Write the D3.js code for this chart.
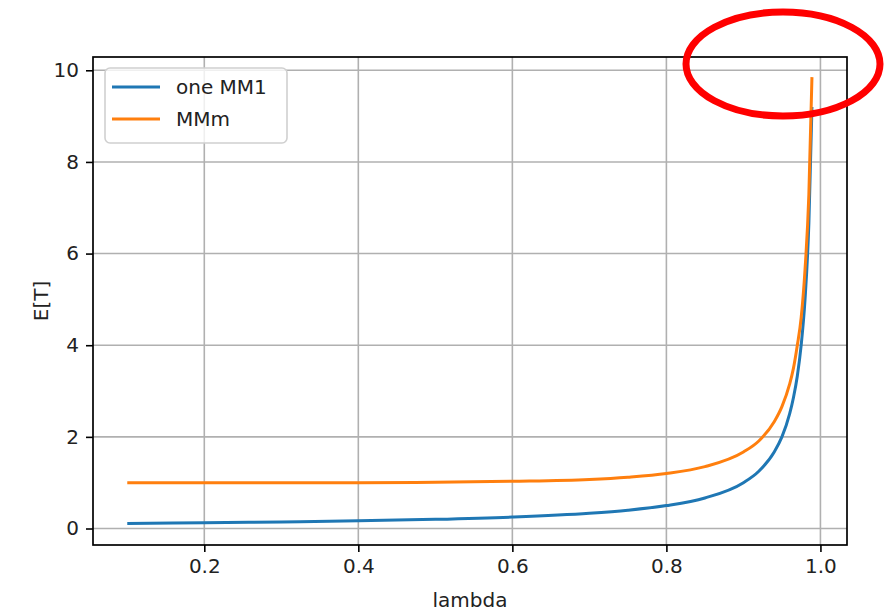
<!DOCTYPE html>
<html>
<head>
<meta charset="utf-8">
<script src="https://cdn.jsdelivr.net/npm/d3@7"></script>
<style>
  body { margin: 0; background: white; }
  text { font-family: "DejaVu Sans", sans-serif; }
</style>
</head>
<body>
<div id="vis"></div>
<script>
// values
let lambdas = [0.1, 0.2, 0.3, 0.4, 0.5, 0.6, 0.7, 0.75, 0.8, 0.85, 0.9, 0.92, 0.94, 0.95, 0.96, 0.965, 0.97, 0.975, 0.98, 0.985, 0.989]
let oneMM1 = [0.11, 0.125, 0.143, 0.167, 0.2, 0.25, 0.333, 0.4, 0.5, 0.667, 1.0, 1.25, 1.67, 2.0, 2.5, 2.86, 3.33, 4.0, 5.0, 6.67, 9.2]
let mmm = [1.0, 1.0, 1.0, 1.0, 1.01, 1.03, 1.07, 1.12, 1.2, 1.35, 1.67, 1.91, 2.33, 2.66, 3.15, 3.5, 4.0, 4.6, 5.65, 7.3, 9.85]
let xTicks = [0.2, 0.4, 0.6, 0.8, 1.0]
let yTicks = [0, 2, 4, 6, 8, 10]
let seriesNames = ['one MM1', 'MMm']
let seriesColors = ['#1f77b4', '#ff7f0e']

let W = 886, H = 611
let margin = { top: 57, left: 93, right: 39, bottom: 66 },
  width = W - margin.left - margin.right,
  height = H - margin.top - margin.bottom

let svg = d3.select('#vis')
  .append('svg')
  .attr('width', W)
  .attr('height', H)
  .style('background-color', 'white')

let x = d3.scaleLinear().domain([0.0555, 1.0345]).range([margin.left, margin.left + width])
let y = d3.scaleLinear().domain([-0.36, 10.29]).range([margin.top + height, margin.top])

// grid
svg.append('g').selectAll('line').data(xTicks).join('line')
  .attr('x1', d => x(d)).attr('x2', d => x(d))
  .attr('y1', margin.top).attr('y2', margin.top + height)
  .attr('stroke', '#b0b0b0').attr('stroke-width', 1.6)
svg.append('g').selectAll('line').data(yTicks).join('line')
  .attr('y1', d => y(d)).attr('y2', d => y(d))
  .attr('x1', margin.left).attr('x2', margin.left + width)
  .attr('stroke', '#b0b0b0').attr('stroke-width', 1.6)

// lines
let series = [oneMM1, mmm]
let line = d3.line()
  .x((d, i) => x(lambdas[i]))
  .y(d => y(d))
  .curve(d3.curveMonotoneX)
series.forEach((s, k) => {
  svg.append('path')
    .attr('d', line(s))
    .attr('fill', 'none')
    .attr('stroke', seriesColors[k])
    .attr('stroke-width', 3)
})

// axes
let xAxis = svg.append('g')
  .attr('transform', `translate(0,${margin.top + height})`)
  .call(d3.axisBottom(x).tickValues(xTicks).tickFormat(d3.format('.1f')).tickSizeOuter(0).tickSize(7).tickPadding(7))
let yAxis = svg.append('g')
  .attr('transform', `translate(${margin.left},0)`)
  .call(d3.axisLeft(y).tickValues(yTicks).tickFormat(d3.format('d')).tickSizeOuter(0).tickSize(7).tickPadding(7))
svg.selectAll('.domain').remove()
svg.selectAll('.tick line').attr('stroke', '#000').attr('stroke-width', 1.6)
svg.selectAll('.tick text').attr('fill', '#222').style('font-size', '20px').style('font-family', 'DejaVu Sans')

// frame
svg.append('rect')
  .attr('x', margin.left).attr('y', margin.top)
  .attr('width', width).attr('height', height)
  .attr('fill', 'none').attr('stroke', '#000').attr('stroke-width', 1.7)

// axis labels
svg.append('text')
  .attr('x', margin.left + width / 2).attr('y', 607)
  .attr('text-anchor', 'middle')
  .style('font-size', '20px').attr('fill', '#222')
  .text('lambda')
svg.append('text')
  .attr('transform', `translate(48,${margin.top + height / 2}) rotate(-90)`)
  .attr('text-anchor', 'middle')
  .style('font-size', '20px').attr('fill', '#222')
  .text('E[T]')

// legend
let legend = svg.append('g')
legend.append('rect')
  .attr('x', 105).attr('y', 68).attr('width', 182).attr('height', 75)
  .attr('rx', 5)
  .attr('fill', 'white').attr('fill-opacity', 0.8)
  .attr('stroke', '#d0d0d0').attr('stroke-width', 1.6)
seriesNames.forEach((name, k) => {
  let yy = 87 + k * 32
  legend.append('line')
    .attr('x1', 112).attr('x2', 160)
    .attr('y1', yy).attr('y2', yy)
    .attr('stroke', seriesColors[k]).attr('stroke-width', 3)
  legend.append('text')
    .attr('x', 176).attr('y', yy + 7)
    .style('font-size', '20px').attr('fill', '#222')
    .text(name)
})

// red highlight ellipse drawn over the top end of the curves
svg.append('ellipse')
  .attr('cx', 783).attr('cy', 64)
  .attr('rx', 97).attr('ry', 52)
  .attr('fill', 'none')
  .attr('stroke', '#f00')
  .attr('stroke-width', 7)
</script>
</body>
</html>
